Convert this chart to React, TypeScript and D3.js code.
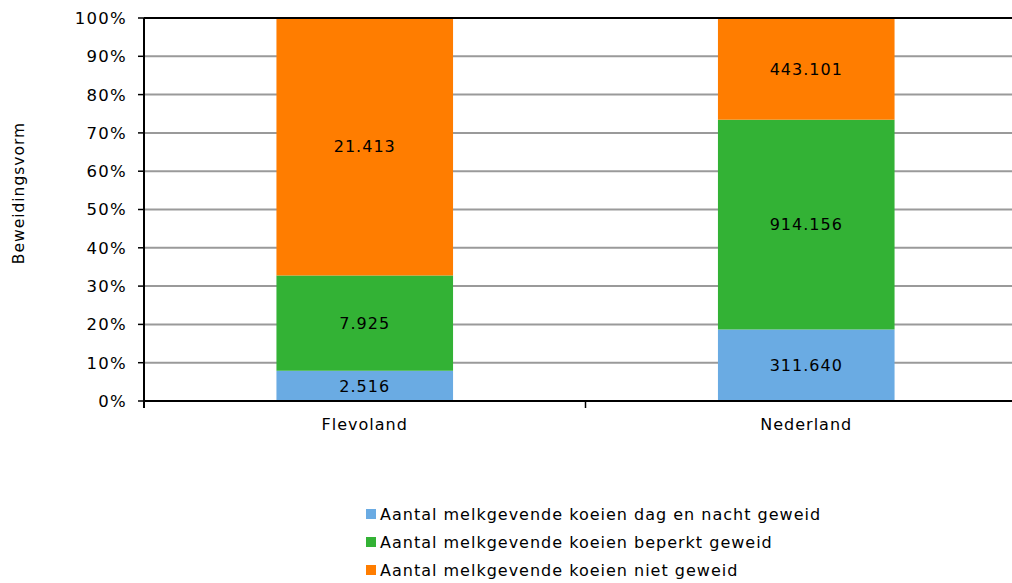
import React from "react";
import * as d3 from "d3";

const categories = ["Flevoland", "Nederland"];
const seriesNames = [
  "Aantal melkgevende koeien dag en nacht geweid",
  "Aantal melkgevende koeien beperkt geweid",
  "Aantal melkgevende koeien niet geweid",
];
const dagEnNacht = [2516, 311640];
const beperkt = [7925, 914156];
const niet = [21413, 443101];
const colors = ["#6aabe3", "#33b235", "#ff7d00"];
const yTicks = [0, 0.1, 0.2, 0.3, 0.4, 0.5, 0.6, 0.7, 0.8, 0.9, 1];

const fmt = (v: number) => d3.format(",")(v).replace(/,/g, ".");

export default function App() {
  const W = 1012, H = 583;
  const left = 144, right = 1027, top = 18, bottom = 401;
  const font = "'DejaVu Sans', Verdana, sans-serif";

  const x = d3.scaleBand().domain(categories).range([left, right]).paddingInner(0.6).paddingOuter(0.3);
  const y = d3.scaleLinear().domain([0, 1]).range([bottom, top]);

  const rows = categories.map((c, i) => {
    const vals = [dagEnNacht[i], beperkt[i], niet[i]];
    const total = d3.sum(vals);
    const obj: any = { cat: c };
    vals.forEach((v, j) => (obj["s" + j] = v / total));
    obj.raw = vals;
    return obj;
  });
  const stack = d3.stack().keys(["s0", "s1", "s2"])(rows as any);

  const band = (right - left) / categories.length;

  return (
    <div style={{ position: "absolute", left: 0, top: 0 }}>
      <svg width={W} height={H} style={{ display: "block", background: "#fff" }} fontFamily={font}>
        {yTicks.slice(1, -1).map((t) => (
          <line key={t} x1={left} x2={W} y1={y(t)} y2={y(t)} stroke="#9a9a9a" strokeWidth={2} />
        ))}
        {stack.map((layer, j) =>
          layer.map((d: any, i) => (
            <g key={j + "-" + i}>
              <rect
                x={x(categories[i])!}
                width={x.bandwidth()}
                y={y(d[1])}
                height={y(d[0]) - y(d[1])}
                fill={colors[j]}
              />
              <text
                x={x(categories[i])! + x.bandwidth() / 2}
                y={(y(d[0]) + y(d[1])) / 2}
                dy="0.36em"
                textAnchor="middle"
                fontSize={16}
                letterSpacing={1}
                fill="#000"
              >
                {fmt(rows[i].raw[j])}
              </text>
            </g>
          ))
        )}
        <line x1={left} x2={W} y1={y(1)} y2={y(1)} stroke="#000" strokeWidth={2} />
        <line x1={left} x2={W} y1={bottom} y2={bottom} stroke="#000" strokeWidth={2} />
        <line x1={left} x2={left} y1={top} y2={bottom + 7} stroke="#000" strokeWidth={2} />
        {yTicks.map((t) => (
          <g key={"yt" + t}>
            <line x1={left - 6} x2={left} y1={y(t)} y2={y(t)} stroke="#000" strokeWidth={1.5} />
            <text x={left - 17} y={y(t)} dy="0.36em" textAnchor="end" fontSize={16.5} letterSpacing={1.3} fill="#000">
              {Math.round(t * 100) + "%"}
            </text>
          </g>
        ))}
        {categories.map((c, i) => (
          <g key={"xt" + c}>
            <line x1={left + band * (i + 1)} x2={left + band * (i + 1)} y1={bottom} y2={bottom + 7} stroke="#000" strokeWidth={1.5} />
            <text x={x(c)! + x.bandwidth() / 2} y={430} textAnchor="middle" fontSize={16} letterSpacing={1} fill="#000">
              {c}
            </text>
          </g>
        ))}
        <text transform={`translate(24,193) rotate(-90)`} textAnchor="middle" fontSize={15.5} letterSpacing={1} fill="#000">
          Beweidingsvorm
        </text>
        {seriesNames.map((s, j) => (
          <g key={"lg" + j} transform={`translate(366,${514 + j * 28})`}>
            <rect x={0} y={-5} width={10} height={10} fill={colors[j]} />
            <text x={14} y={0} dy="0.36em" fontSize={16} letterSpacing={1} fill="#000">
              {s}
            </text>
          </g>
        ))}
      </svg>
    </div>
  );
}
